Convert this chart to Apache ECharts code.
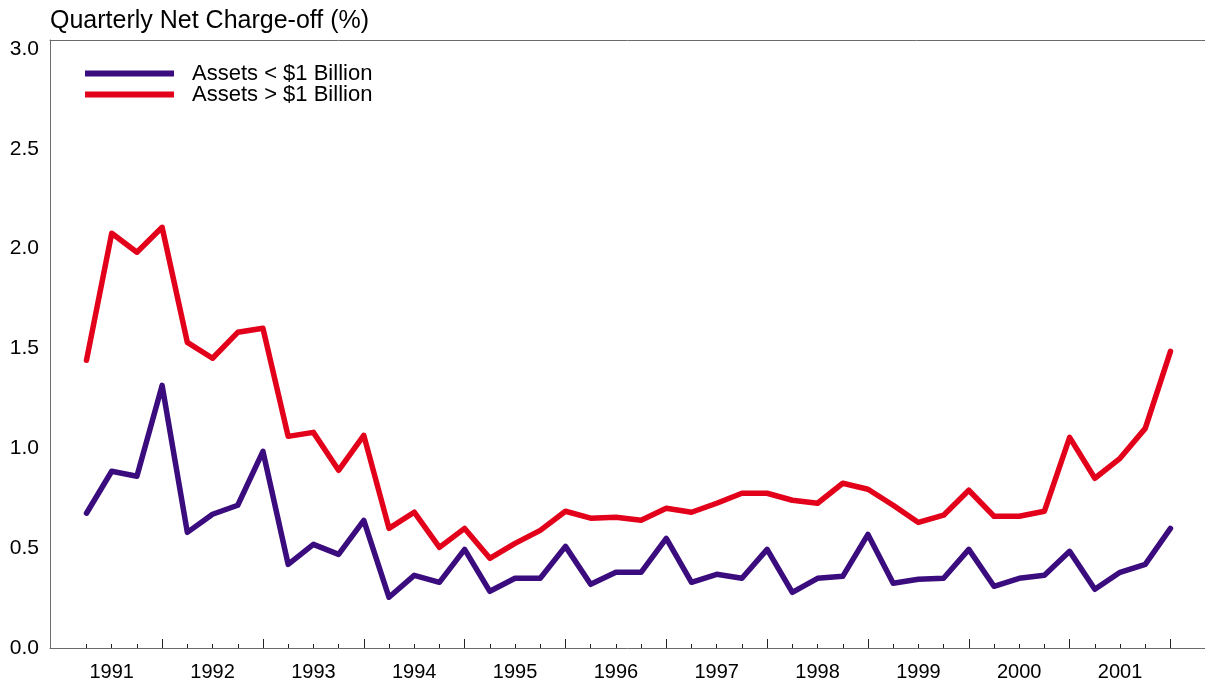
<!DOCTYPE html>
<html>
<head>
<meta charset="utf-8">
<script src="https://cdn.jsdelivr.net/npm/echarts@6/dist/echarts.min.js"></script>
<style>
  html, body { margin: 0; padding: 0; background: #fff; }
  #main { width: 1205px; height: 683px; }
</style>
</head>
<body>
<div id="main"></div>
<script>
// quarterly net charge-off, 1991 Q1 .. 2001 Q4 (44 quarters)
const years = ['1991', '1992', '1993', '1994', '1995', '1996', '1997', '1998', '1999', '2000', '2001']
const smallBanks = [
  0.675, 0.885, 0.86, 1.315, 0.579, 0.67, 0.715, 0.985,
  0.419, 0.519, 0.469, 0.639, 0.254, 0.364, 0.329, 0.494,
  0.284, 0.349, 0.349, 0.509, 0.319, 0.379, 0.379, 0.549,
  0.329, 0.369, 0.349, 0.494, 0.279, 0.349, 0.359, 0.569,
  0.324, 0.344, 0.349, 0.494, 0.309, 0.349, 0.364, 0.484,
  0.294, 0.379, 0.419, 0.599
]
const largeBanks = [
  1.441, 2.077, 1.982, 2.107, 1.531, 1.451, 1.581, 1.601,
  1.06, 1.08, 0.89, 1.065, 0.599, 0.68, 0.504, 0.599,
  0.449, 0.524, 0.589, 0.685, 0.65, 0.655, 0.64, 0.70,
  0.68, 0.725, 0.775, 0.775, 0.74, 0.725, 0.825, 0.795,
  0.715, 0.629, 0.665, 0.79, 0.66, 0.66, 0.685, 1.055,
  0.85, 0.95, 1.10, 1.486
]
const yTicks = [0, 0.5, 1.0, 1.5, 2.0, 2.5, 3.0]

const quarters = smallBanks.map((v, i) => i)
const labelPos = years.map((y, k) => k * 4 + 1)
const majorTicks = years.map((y, k) => k * 4 + 3)
const minorTicks = quarters.filter((i) => i % 4 !== 3)

const font = 'Liberation Sans, Arial, sans-serif'
const axisColor = '#6b6b6b'
const xMin = -1.448
const xMax = 44.37

const option = {
  animation: false,
  backgroundColor: '#fff',
  title: {
    text: 'Quarterly Net Charge-off (%)',
    left: 50,
    top: 9,
    padding: 0,
    textStyle: { fontFamily: font, fontSize: 25, fontWeight: 'normal', color: '#000' }
  },
  legend: {
    orient: 'vertical',
    left: 85,
    top: 59,
    padding: 0,
    icon: 'rect',
    itemWidth: 89,
    itemHeight: 6,
    itemGap: -8,
    textStyle: { fontFamily: font, fontSize: 22, color: '#000', lineHeight: 22, padding: [7, 0, 0, 13] },
    data: ['Assets < $1 Billion', 'Assets > $1 Billion']
  },
  grid: { left: 50, right: 0, top: 40, bottom: 35 },
  xAxis: [
    {
      type: 'value',
      min: xMin,
      max: xMax,
      position: 'bottom',
      axisLine: { show: true, onZero: false, lineStyle: { color: axisColor, width: 1 } },
      axisTick: { show: true, inside: true, length: 9, customValues: majorTicks, lineStyle: { color: '#222' } },
      axisLabel: {
        show: true,
        customValues: labelPos,
        margin: 14,
        fontFamily: font,
        fontSize: 20,
        color: '#000',
        formatter: (v) => years[Math.round((v - 1) / 4)]
      },
      splitLine: { show: false }
    },
    {
      type: 'value',
      min: xMin,
      max: xMax,
      position: 'bottom',
      axisLine: { show: false, onZero: false },
      axisTick: { show: true, inside: true, length: 4, customValues: minorTicks, lineStyle: { color: '#222' } },
      axisLabel: { show: false },
      splitLine: { show: false }
    },
    {
      type: 'value',
      min: xMin,
      max: xMax,
      position: 'top',
      axisLine: { show: true, onZero: false, lineStyle: { color: axisColor, width: 1 } },
      axisTick: { show: false },
      axisLabel: { show: false },
      splitLine: { show: false }
    }
  ],
  yAxis: {
    type: 'value',
    min: 0,
    max: 3.045,
    axisLine: { show: true, onZero: false, lineStyle: { color: axisColor, width: 1 } },
    axisTick: { show: false },
    splitLine: { show: false },
    axisLabel: {
      customValues: yTicks,
      margin: 11,
      fontFamily: font,
      fontSize: 21,
      color: '#000',
      formatter: (v) => v.toFixed(1)
    }
  },
  series: [
    {
      name: 'Assets < $1 Billion',
      type: 'line',
      data: quarters.map((i) => [i, smallBanks[i]]),
      showSymbol: false,
      color: '#3b0c7e',
      lineStyle: { width: 5.5, cap: 'round', join: 'round' }
    },
    {
      name: 'Assets > $1 Billion',
      type: 'line',
      data: quarters.map((i) => [i, largeBanks[i]]),
      showSymbol: false,
      color: '#e2001a',
      lineStyle: { width: 5.5, cap: 'round', join: 'round' }
    }
  ]
}

const chart = echarts.init(document.getElementById('main'))
chart.setOption(option)
</script>
</body>
</html>
